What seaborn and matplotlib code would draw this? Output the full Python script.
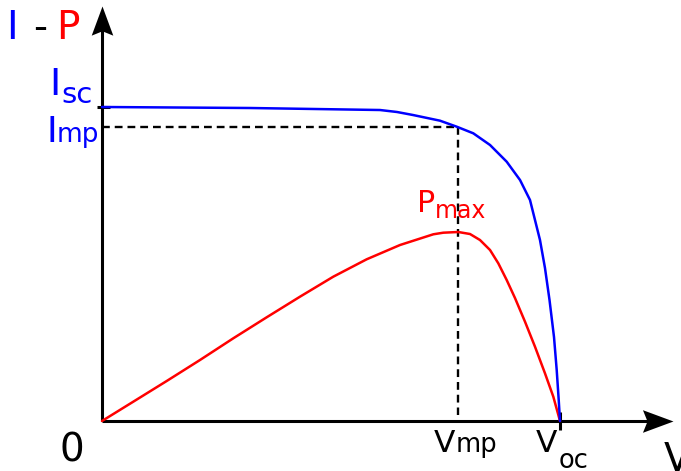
import matplotlib
matplotlib.use('Agg')
import matplotlib.pyplot as plt
import matplotlib.transforms as mtransforms
from matplotlib.path import Path
import seaborn as sns
import pandas as pd

# I-V curve (normalized: V / Voc, I / Isc)
v_iv = [0.0, 0.3231, 0.6070, 0.6441, 0.6790, 0.7380, 0.7745, 0.8107, 0.8472,
        0.8836, 0.9127, 0.9345, 0.9454, 0.9563, 0.9672, 0.9771, 0.9869,
        0.9928, 0.9972, 1.0]
i_iv = [1.000, 0.9968, 0.9904, 0.9841, 0.9745, 0.9564, 0.9373, 0.9162, 0.8790,
        0.8258, 0.7675, 0.7038, 0.6401, 0.5764, 0.4873, 0.3854, 0.2675,
        0.1624, 0.0669, 0.0]

# P-V curve (same normalized scale)
v_pv = [0.0, 0.0683, 0.1413, 0.2140, 0.2867, 0.3596, 0.4323, 0.5050, 0.5779,
        0.6507, 0.7234, 0.7452, 0.7779, 0.8035, 0.8253, 0.8472, 0.8653,
        0.8836, 0.9017, 0.9236, 0.9454, 0.9672, 0.9854, 1.0]
p_pv = [0.0, 0.0615, 0.1274, 0.1943, 0.2634, 0.3303, 0.3959, 0.4596, 0.5150,
        0.5605, 0.5946, 0.5997, 0.6019, 0.5955, 0.5764, 0.5446, 0.5022,
        0.4490, 0.3917, 0.3162, 0.2366, 0.1519, 0.0774, 0.0]

v_mp, v_oc = 0.777, 1.0
i_mp, i_sc = 0.936, 1.0

sns.set_style('white')
plt.rcParams['font.family'] = ['DejaVu Sans']

W, H = 681, 471
fig = plt.figure(figsize=(W / 100, H / 100), dpi=100)
ax = fig.add_axes([0, 0, 1, 1])
ax.set_xlim(-102 / 458, (W - 102) / 458)
ax.set_ylim(-(H - 421) / 314, 421 / 314)
ax.axis('off')

# pixel transform for labels
pix = mtransforms.Affine2D().scale(1 / W, -1 / H).translate(0, 1) + fig.transFigure

# dashed guides
dash = (0, (3.3, 2.1))
ax.plot([0, v_mp], [i_mp, i_mp], ls=dash, color='black', lw=1.7)
ax.plot([v_mp, v_mp], [i_mp, 0.02], ls=dash, color='black', lw=1.7)

# axes lines
x_tip = (673 - 102) / 458
y_tip = (421 - 6) / 314
ax.plot([0, x_tip - 0.03], [0, 0], color='black', lw=2.2, solid_capstyle='butt')
ax.plot([0, 0], [0, y_tip - 0.04], color='black', lw=2.2, solid_capstyle='butt')

up = Path([(0, 0), (-0.37, -1), (0, -0.85), (0.37, -1), (0, 0)],
          [Path.MOVETO, Path.LINETO, Path.LINETO, Path.LINETO, Path.CLOSEPOLY])
right = Path([(0, 0), (-1, 0.37), (-0.85, 0), (-1, -0.37), (0, 0)],
             [Path.MOVETO, Path.LINETO, Path.LINETO, Path.LINETO, Path.CLOSEPOLY])
ax.plot([0], [y_tip], marker=up, ms=42, color='black', mew=0)
ax.plot([x_tip], [0], marker=right, ms=44, color='black', mew=0)

# small ticks at Isc and Voc
ax.plot([-5 / 458, 8 / 458], [i_sc, i_sc], color='black', lw=2.2, solid_capstyle='butt')
ax.plot([v_oc, v_oc], [-9 / 314, 9 / 314], color='black', lw=2.2, solid_capstyle='butt')

# curves
df_iv = pd.DataFrame({'V': v_iv, 'I': i_iv})
df_pv = pd.DataFrame({'V': v_pv, 'P': p_pv})
sns.lineplot(data=df_pv, x='V', y='P', sort=False, estimator=None,
             color='#ff0000', lw=1.8, ax=ax, solid_joinstyle='round')
sns.lineplot(data=df_iv, x='V', y='I', sort=False, estimator=None,
             color='#0000ff', lw=1.8, ax=ax, solid_joinstyle='round')


def t(x, y, s, color, size, **kw):
    ax.text(x, y, s, color=color, fontsize=size, transform=pix,
            va='baseline', ha=kw.pop('ha', 'left'), **kw)


BLUE, RED, BLACK = '#0000ff', '#ff0000', '#000000'
t(6, 39, 'I', BLUE, 28)
t(40, 39, '-', BLACK, 28, ha='center')
t(56, 39, 'P', RED, 28)

t(49.5, 95, 'I', BLUE, 27.5)
t(61, 103, 'sc', BLUE, 21)
t(47, 142, 'I', BLUE, 26)
t(57, 142, 'mp', BLUE, 19)

t(60, 462, '0', BLACK, 28)
t(434, 452, 'V', BLACK, 22.5)
t(456, 452, 'mp', BLACK, 18.5)
t(536, 452, 'V', BLACK, 22.5)
t(559, 468, 'oc', BLACK, 18.5)
t(664, 471, 'V', BLACK, 28)

t(417, 212, 'P', RED, 21.6)
t(435, 218, 'max', RED, 17)

fig.savefig('out.png', dpi=100)
